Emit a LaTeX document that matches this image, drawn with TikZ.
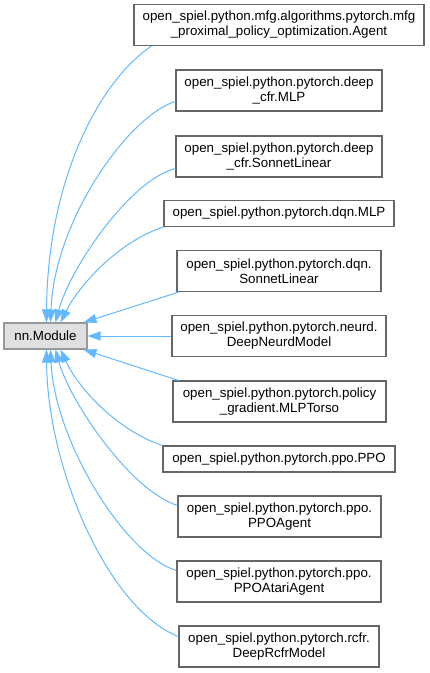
\documentclass[tikz,border=0pt]{standalone}
\usepackage{fontspec}
\setmainfont{Liberation Sans}
\usetikzlibrary{arrows.meta,calc}
\definecolor{edgeblue}{HTML}{63B8FF}
\definecolor{boxgray}{HTML}{666666}
\definecolor{basegray}{HTML}{999999}
\definecolor{basefill}{HTML}{E0E0E0}
\begin{document}
\begin{tikzpicture}[x=0.75pt,y=-0.75pt,
  cls/.style={draw=boxgray,line width=0.8pt,fill=white,inner sep=0pt,align=center,
    font=\fontsize{10}{11.2}\selectfont},
  baseclass/.style={draw=basegray,line width=0.8pt,fill=basefill,inner sep=0pt,align=center,
    font=\fontsize{10}{11.2}\selectfont,minimum width=62.25pt,minimum height=19.5pt},
  inh/.style={draw=edgeblue,line width=0.75pt,-{Triangle[length=9.75pt,width=6.75pt]}}]
\useasboundingbox (0,0) rectangle (429,673);
\node[baseclass] (base) at (45.5,336) {nn.Module};
\node[cls,minimum width=217.5pt,minimum height=30.75pt] (n1) at (279,25) {open\_spiel.python.mfg.algorithms.pytorch.mfg\\\_proximal\_policy\_optimization.Agent};
\node[cls,minimum width=154.5pt,minimum height=30.75pt] (n2) at (279,90.5) {open\_spiel.python.pytorch.deep\\\_cfr.MLP};
\node[cls,minimum width=154.5pt,minimum height=30.75pt] (n3) at (279,156.5) {open\_spiel.python.pytorch.deep\\\_cfr.SonnetLinear};
\node[cls,minimum width=172.5pt,minimum height=19.5pt] (n4) at (279,213.5) {open\_spiel.python.pytorch.dqn.MLP};
\node[cls,minimum width=153pt,minimum height=31pt] (n5) at (279,271) {open\_spiel.python.pytorch.dqn.\\SonnetLinear};
\node[cls,minimum width=160.5pt,minimum height=30.75pt] (n6) at (279,336) {open\_spiel.python.pytorch.neurd.\\DeepNeurdModel};
\node[cls,minimum width=159.75pt,minimum height=30.75pt] (n7) at (279.5,401.5) {open\_spiel.python.pytorch.policy\\\_gradient.MLPTorso};
\node[cls,minimum width=174pt,minimum height=19.5pt] (n8) at (279,459) {open\_spiel.python.pytorch.ppo.PPO};
\node[cls,minimum width=152.25pt,minimum height=30.75pt] (n9) at (279.5,516.5) {open\_spiel.python.pytorch.ppo.\\PPOAgent};
\node[cls,minimum width=153pt,minimum height=30.75pt] (n10) at (279,581.5) {open\_spiel.python.pytorch.ppo.\\PPOAtariAgent};
\node[cls,minimum width=150pt,minimum height=30.75pt] (n11) at (279,646.5) {open\_spiel.python.pytorch.rcfr.\\DeepRcfrModel};
% inheritance edges
\draw[inh] ($(n1.south west)+(18,0)$) .. controls +(-52,35) and +(1,-143) .. ($(base.north west)+(43,0)$);
\draw[inh] ($(n2.west)+(0,11)$) .. controls +(-46,13.5) and +(4,-103) .. ($(base.north west)+(47,0)$);
\draw[inh] ($(n3.west)+(0,12)$) .. controls +(-46,11.5) and +(14,-53) .. ($(base.north west)+(52,0)$);
\draw[inh] (n4.south west) .. controls +(-44,14) and +(19,-38) .. ($(base.north west)+(57,0)$);
\draw[inh] ($(n5.south west)+(2,0)$) -- ($(base.north east)+(-4,0)$);
\draw[inh] (n6.west) -- (base.east);
\draw[inh] ($(n7.north west)+(6,0)$) -- ($(base.south east)+(-4,0)$);
\draw[inh] (n8.north west) .. controls +(-43,-14) and +(19,41) .. ($(base.south west)+(57,0)$);
\draw[inh] ($(n9.west)+(0,-11)$) .. controls +(-48,-15.5) and +(14,51) .. ($(base.south west)+(52,0)$);
\draw[inh] ($(n10.west)+(0,-11)$) .. controls +(-52,-15.5) and +(4,91) .. ($(base.south west)+(47,0)$);
\draw[inh] ($(n11.west)+(0,-10)$) .. controls +(-69,-26.5) and +(1,121) .. ($(base.south west)+(43,0)$);
\end{tikzpicture}
\end{document}
